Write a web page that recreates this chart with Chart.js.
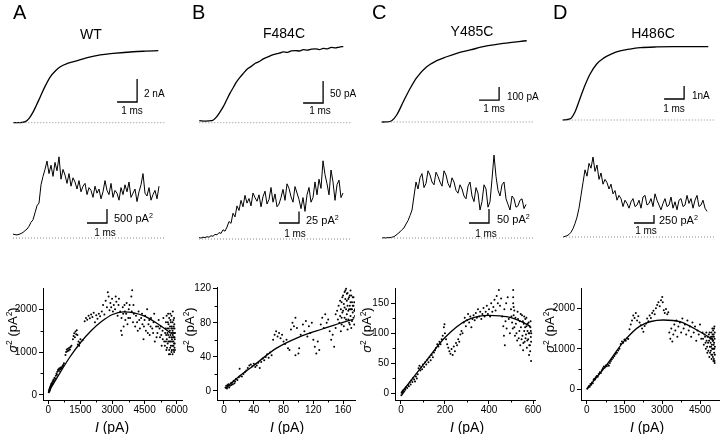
<!DOCTYPE html>
<html>
<head>
<meta charset="utf-8">
<script src="https://cdn.jsdelivr.net/npm/chart.js@4.4.0/dist/chart.umd.min.js"></script>
<style>
body { margin: 0; background: #fff; width: 720px; height: 434px; position: relative; overflow: hidden;
       font-family: "Liberation Sans", Arial, sans-serif; color: #000; }
canvas { position: absolute; }
.t { position: absolute; white-space: nowrap; line-height: 1; }
.t sup { font-size: 65%; vertical-align: 0.55em; line-height: 0; }
</style>
</head>
<body>
<script>
// ---------- row 1: macroscopic currents (time in ms) ----------
const actA_t  = [0, 0.3, 0.6, 0.8, 1.0, 1.15, 1.35, 1.6, 1.85, 2.1, 2.35, 2.7, 3.2, 3.7, 4.35, 5.0, 6.0, 6.6, 7.25];
const actA_nA = [0, 0.01, 0.09, 0.4, 0.96, 1.5, 2.26, 3.2, 3.99, 4.5, 4.87, 5.15, 5.39, 5.65, 5.89, 6.02, 6.17, 6.22, 6.26];

const actB_t  = [0, 0.3, 0.62, 0.87, 1.03, 1.2, 1.37, 1.53, 1.7, 1.87, 2.03, 2.2, 2.4, 2.6, 2.8, 3.0, 3.2, 3.4, 3.6, 3.8,
                 4.0, 4.2, 4.4, 4.6, 4.8, 5.0, 5.2, 5.4, 5.6, 5.8, 6.0, 6.2, 6.4, 6.6, 6.8, 7.0, 7.2];
const actB_pA = [4.5, 3.8, 4.5, 13.6, 24, 36.4, 52, 66.6, 80, 93.2, 103, 112, 122, 128, 135, 139, 145, 149, 153, 156,
                 158, 161, 160, 163, 164, 163, 166, 165, 167, 168, 166, 169, 168, 171, 170, 172, 173];

const actC_t  = [0, 0.25, 0.5, 0.75, 1.08, 1.42, 1.75, 2.25, 2.75, 3.25, 3.75, 4.42, 5.25, 6.08, 7.25];
const actC_pA = [0, 1, 10, 54, 156, 258, 342, 425, 472, 502, 528, 554, 585, 605, 625];

const actD_t  = [0, 0.37, 0.62, 0.87, 1.12, 1.37, 1.7, 2.03, 2.45, 2.87, 3.37, 3.87, 4.7, 5.53, 7.28];
const actD_nA = [0, 0.08, 0.64, 1.67, 2.69, 3.54, 4.31, 4.74, 5.08, 5.31, 5.46, 5.56, 5.62, 5.64, 5.64];

// ---------- row 2: variance traces, sampled every 0.1 ms ----------
const varDt = 0.1;
const varA = [140, 120, 110, 130, 160, 200, 260, 320, 420, 560, 650, 900, 1150, 1250, 1900, 2200, 2450, 2750, 2300, 2600,
              2200, 2700, 2400, 2900, 2100, 2450, 2250, 1950, 2300, 1850, 2150, 2000, 1750, 2050, 1650, 1850, 1950, 1550,
              1800, 1700, 1450, 1850, 1600, 1750, 1400, 1650, 2050, 1700, 1550, 1950, 1450, 1700, 1600, 1350, 1800, 1550,
              1900, 1650, 2000, 1450, 1600, 1750, 1300, 1650, 1900, 2300, 1600, 1500, 1800, 1350, 1550, 1700, 1400, 1850];
const varB = [3, 2, 4, 3, 5, 4, 7, 6, 10, 9, 14, 12, 20, 17, 26, 38, 34, 56, 48, 72, 62, 84, 70, 95, 78, 88, 72,
              100, 90, 82, 96, 70, 92, 104, 76, 86, 112, 80, 98, 70, 76, 90, 108, 84, 120, 110, 92, 80, 114, 100, 86, 66,
              90, 60, 96, 112, 80, 90, 124, 96, 130, 110, 170, 140, 120, 96, 150, 124, 84, 118, 128, 90, 100];
const varC = [0, 1, 0, 2, 1, 3, 5, 10, 16, 22, 30, 36, 50, 62, 80, 100, 150,
              200, 175, 215, 230, 180, 195, 240, 225, 200, 190, 235, 220, 200, 185, 240, 225, 195, 180, 215, 200, 170, 160,
              190, 175, 150, 140, 185, 200, 150, 130, 180, 160, 100, 130, 190, 175, 110, 130, 210, 296, 220, 170, 150, 190,
              200, 140, 120, 100, 150, 140, 110, 115, 135, 140, 105, 120];
const varD = [0, 20, 40, 80, 150, 260, 420, 620, 900, 1300, 1700, 2100, 1900, 2300, 2150, 2500, 2050, 2250, 1800, 2000,
              1650, 1800, 1700, 1500, 1650, 1350, 1450, 1150, 1300, 1200, 950, 1150, 1050, 900, 1100, 1200, 950, 1000,
              1150, 900, 1250, 1300, 1000, 1050, 1200, 950, 1350, 1150, 1000, 850, 1050, 1200, 950, 1000, 1250, 900, 1100,
              850, 1150, 1200, 950, 1000, 1300, 1050, 1200, 900, 1150, 1300, 950, 1000, 1150, 900, 800];

// ---------- row 3: variance vs mean current, [I (pA), sigma^2 (pA^2)] ----------
const scatA = [[20,60],[30,90],[40,120],[50,80],[60,150],[70,110],[80,180],[90,140],[100,200],[110,170],[120,230],[130,190],
  [140,260],[150,220],[170,280],[190,250],[200,320],[220,300],[240,360],[260,340],[290,400],[320,380],[350,450],[380,500],
  [400,470],[420,540],[450,580],[480,600],[500,560],[520,620],[550,600],[580,640],[610,620],[640,650],[670,680],[700,700],
  [730,740],[800,930],[830,1000],[860,1060],[890,1020],[920,1080],[950,1040],[980,1100],[1010,1060],[1040,1120],[1080,1150],
  [1150,1300],[1180,1380],[1210,1440],[1240,1350],[1270,1480],[1300,1420],[1330,1510],[1360,1400],[1380,1180],[1410,1250],
  [1440,1150],[1470,1220],[1500,1300],[1600,1280],[1700,1720],[1760,1800],[1820,1760],[1880,1850],[1940,1790],[2000,1880],
  [2060,1820],[2120,1920],[2180,1700],[2240,1860],[2300,1780],[2360,1900],[2420,1840],[2500,1950],[2560,2100],[2620,1880],
  [2680,2200],[2740,2050],[2780,2400],[2820,2300],[2860,1980],[2900,2150],[2940,2050],[2980,2250],[3020,1950],[3060,2100],
  [3120,2000],[3150,2300],[3180,2180],[3240,1850],[3280,2100],[3300,2250],[3360,1950],[3400,1500],[3420,1800],[3440,1400],
  [3480,2050],[3500,1900],[3520,1600],[3560,2100],[3580,1950],[3600,1750],[3640,1900],[3660,2150],[3700,1650],[3740,1800],
  [3760,2000],[3800,2100],[3820,1800],[3880,2300],[3900,1950],[3920,2450],[3960,1700],[3980,2100],[4000,1900],[4060,1600],
  [4100,1850],[4150,1700],[4180,1500],[4220,1950],[4250,1750],[4280,1550],[4340,1800],[4380,1900],[4400,1650],[4450,1300],
  [4470,1600],[4500,1750],[4530,1850],[4560,1500],[4620,2000],[4650,1450],[4680,1650],[4720,1750],[4740,1400],[4780,1600],
  [4800,1800],[4860,1550],[4900,1450],[4920,1700],[4950,1900],[4980,1250],[5040,1600],[5060,1350],[5100,1450],[5130,1600],
  [5160,1750],[5200,1550],[5220,1350],[5260,1600],[5280,1400],[5300,1150],[5340,1500],[5350,1300],[5380,1800],[5420,1250],
  [5450,1150],[5460,1450],[5480,1550],[5500,1700],[5500,1250],[5510,1400],[5520,1050],[5530,1850],[5540,1300],[5550,1100],
  [5560,1550],[5570,1450],[5580,1200],[5590,1700],[5600,1400],[5600,1900],[5610,1250],[5620,1650],[5630,1550],[5640,950],
  [5650,1050],[5650,1800],[5660,1350],[5670,1250],[5680,1500],[5690,1600],[5690,950],[5700,1100],[5700,1900],[5710,1750],
  [5710,1400],[5720,1250],[5730,1150],[5730,1700],[5740,1450],[5750,1350],[5750,1550],[5760,1000],[5760,1850],[5770,1600],
  [5770,1050],[5780,1300],[5790,1450],[5790,1250],[5800,1150],[5810,1500],[5810,1700],[5810,950],[5820,1400],[5820,1950],
  [5830,1350],[5830,1550],[5840,1050],[5850,1250],[5850,1150],[5850,1750],[5860,1600],[5870,1350],[5870,1450],[5880,1200],
  [5880,1000],[5880,1800],[5890,1450],[5890,1650],[5900,1100],[5900,1350],[5900,1550],[5910,1300],[5910,1200],[5920,1450],
  [5920,1050]];
const fitA = [[0,60],[500,480],[1000,880],[1500,1220],[2000,1500],[2500,1720],[3000,1880],[3500,1940],[4000,1920],
  [4500,1840],[5000,1700],[5500,1530],[5700,1450]];

const scatB = [[2,4],[3,6],[4,3],[5,7],[5,5],[6,8],[7,4],[8,6],[9,9],[10,7],[11,10],[12,8],[13,12],[14,9],[15,11],[16,14],
  [18,13],[20,16],[21,26],[22,18],[24,17],[26,20],[28,22],[30,24],[32,27],[34,30],[36,31],[38,29],[40,32],[42,28],[44,30],
  [46,33],[48,27],[50,34],[52,38],[54,36],[56,40],[58,43],[60,39],[62,45],[64,42],[66,60],[68,66],[70,70],[72,64],[74,68],
  [76,62],[78,66],[80,58],[82,55],[84,60],[86,50],[88,48],[90,72],[92,80],[94,76],[96,86],[96,42],[98,74],[100,44],[101,50],
  [103,66],[106,78],[108,70],[110,82],[112,64],[114,76],[116,68],[118,80],[120,60],[122,52],[124,44],[126,58],[128,48],
  [130,78],[132,86],[134,74],[136,90],[138,80],[140,84],[142,70],[144,60],[146,66],[148,52],[150,74],[150,90],[152,94],
  [153,84],[154,100],[155,80],[156,88],[156,106],[157,70],[157,96],[158,104],[158,78],[158,86],[159,92],[159,110],[160,112],
  [160,94],[161,76],[161,102],[162,98],[162,86],[162,116],[163,118],[163,108],[164,84],[164,96],[164,120],[165,106],[165,90],
  [165,114],[166,72],[166,115],[166,100],[167,94],[167,84],[167,108],[168,80],[168,110],[168,96],[169,100],[169,112],[169,78],
  [170,88],[170,118],[170,104],[170,96],[171,74],[171,96],[171,112],[172,104],[172,82],[172,96],[173,92],[173,110],[173,100],
  [174,86],[174,100],[174,110],[175,78],[175,94],[175,104],[176,88],[176,96]];
const fitB = [[2,3],[20,17],[40,30],[70,50],[100,63],[133,73],[165,82],[174,84]];

const scatC = [[2,-3],[4,2],[6,-1],[8,4],[10,1],[12,6],[15,3],[18,8],[20,6],[24,11],[28,9],[32,14],[36,12],[40,18],[44,15],
  [48,22],[52,19],[56,26],[60,23],[64,20],[68,28],[72,25],[76,32],[80,42],[84,46],[88,38],[92,44],[96,40],[100,48],[105,44],
  [110,52],[115,48],[120,56],[125,52],[130,60],[135,55],[140,64],[145,60],[150,68],[155,72],[160,76],[165,82],[170,78],
  [175,86],[180,82],[185,90],[190,96],[195,110],[198,115],[200,100],[205,90],[210,82],[215,76],[220,70],[225,66],[230,74],
  [235,64],[240,78],[245,70],[250,84],[255,80],[260,90],[265,86],[270,98],[275,104],[280,100],[285,118],[290,126],[295,112],
  [300,122],[305,132],[310,118],[315,128],[320,110],[325,124],[330,130],[335,122],[340,134],[345,126],[350,140],[355,128],
  [360,136],[365,124],[370,132],[375,142],[380,128],[385,136],[390,146],[395,132],[400,140],[405,128],[410,150],[415,136],
  [420,144],[425,156],[430,138],[435,162],[440,150],[445,172],[450,146],[455,158],[460,128],[465,112],[468,96],[470,140],
  [472,80],[475,120],[478,150],[480,108],[485,160],[490,124],[495,100],[500,140],[502,128],[505,118],[508,108],[510,172],
  [510,150],[510,160],[512,130],[512,144],[515,110],[515,138],[518,96],[520,126],[522,116],[525,100],[528,88],[530,136],
  [532,124],[535,92],[538,104],[540,120],[542,80],[544,132],[545,110],[548,90],[550,130],[552,96],[554,120],[555,72],
  [556,84],[558,116],[560,104],[560,128],[562,86],[564,110],[565,124],[566,92],[568,98],[570,112],[570,126],[572,76],
  [574,88],[575,104],[576,116],[578,90],[580,118],[580,100],[582,64],[583,80],[584,100],[585,112],[586,80],[587,70],
  [588,110],[589,120],[590,94],[590,104],[591,54],[591,86],[592,100]];
const fitC = [[0,0],[100,47],[200,93],[300,122],[400,130],[450,129],[500,126],[550,119],[585,112]];

const scatD = [[30,20],[60,50],[90,80],[120,60],[150,130],[180,110],[210,170],[240,150],[270,230],[300,260],[330,240],
  [360,300],[400,330],[440,310],[480,380],[520,420],[560,400],[600,470],[640,520],[680,560],[720,540],[760,590],[800,570],
  [840,610],[880,580],[920,650],[960,700],[1000,740],[1050,780],[1100,820],[1150,870],[1200,900],[1250,960],[1300,1000],
  [1350,1120],[1400,1180],[1450,1150],[1500,1230],[1550,1200],[1600,1260],[1650,1240],[1700,1480],[1750,1600],[1800,1700],
  [1850,1820],[1900,1760],[1950,1880],[2000,1700],[2050,1800],[2100,1650],[2150,1580],[2200,1500],[2250,1420],[2300,1560],
  [2350,1620],[2400,1750],[2450,1680],[2500,1820],[2550,1760],[2600,1880],[2650,1940],[2700,1850],[2750,2000],[2800,2080],
  [2850,2150],[2900,2050],[2950,2200],[3000,2280],[3020,2150],[3060,1950],[3100,1880],[3150,1980],[3200,1850],[3240,1900],
  [3280,1400],[3320,1250],[3360,1500],[3400,1180],[3440,1350],[3480,1600],[3520,1450],[3560,1700],[3600,1300],[3640,1550],
  [3700,1650],[3750,1400],[3800,1750],[3850,1500],[3900,1600],[3950,1350],[4000,1700],[4050,1450],[4100,1550],[4150,1300],
  [4200,1650],[4250,1400],[4300,1550],[4350,1200],[4400,1450],[4450,1350],[4500,1600],[4550,1250],[4600,1400],[4620,1250],
  [4650,1100],[4680,1350],[4700,1300],[4720,1150],[4730,1000],[4750,1400],[4760,1200],[4780,1050],[4790,900],[4800,1300],
  [4820,1150],[4830,950],[4850,1350],[4860,1200],[4870,800],[4880,1400],[4890,1050],[4900,900],[4910,1250],[4920,1150],
  [4930,950],[4940,1300],[4940,1050],[4950,1400],[4950,850],[4960,750],[4970,1100],[4970,1250],[4980,1300],[4980,1000],
  [4990,850],[4990,1500],[5000,1200],[5000,1350],[5010,1000],[5010,800],[5020,1450],[5020,1200],[5030,700],[5030,1000],
  [5040,1100],[5040,1350],[5050,1300],[5050,750],[5055,1500],[5060,900],[5060,1150],[5070,1550],[5070,1000],[5075,700],
  [5080,650],[5080,1250],[5085,1400],[5090,1050],[5090,850]];
const fitD = [[0,0],[790,600],[1500,1200],[2115,1560],[3040,1710],[3700,1670],[4500,1420],[5030,1220]];

// tick labels
const xTicksA = [0, 1500, 3000, 4500, 6000], yTicksA = [0, 1000, 2000];
const xTicksB = [0, 40, 80, 120, 160],       yTicksB = [0, 40, 80, 120];
const xTicksC = [0, 200, 400, 600],          yTicksC = [0, 50, 100, 150];
const xTicksD = [0, 1500, 3000, 4500],       yTicksD = [0, 1000, 2000];

const panelLetters = ['A', 'B', 'C', 'D'];
const panelNames = ['WT', 'F484C', 'Y485C', 'H486C'];

// ---------- helpers ----------
function makeCanvas(left, top, w, h) {
  const c = document.createElement('canvas');
  c.width = w; c.height = h;
  c.style.left = left + 'px'; c.style.top = top + 'px';
  c.style.width = w + 'px'; c.style.height = h + 'px';
  document.body.appendChild(c);
  return c;
}
function addText(html, x, y, size, anchor, extra) {
  const d = document.createElement('div');
  d.className = 't';
  d.innerHTML = html;
  d.style.left = x + 'px'; d.style.top = y + 'px';
  d.style.fontSize = size + 'px';
  const tr = { l: 'translate(0,-50%)', c: 'translate(-50%,-50%)', r: 'translate(-100%,-50%)' }[anchor || 'c'];
  d.style.transform = tr + (extra || '');
  document.body.appendChild(d);
}
const pts = (xs, ys) => xs.map((x, i) => ({ x: x, y: ys[i] }));
const sampled = (ys) => ys.map((y, i) => ({ x: i * varDt, y: y }));
const pairs = (arr) => arr.map(p => ({ x: p[0], y: p[1] }));

// trace panel: no axes, pixel mapping given by layout
function traceChart(p, trace, lw, smooth) {
  const cv = makeCanvas(p.left, p.top, p.w, p.h);
  const xmin = (p.left - p.x0) / 20, xmax = (p.left + p.w - p.x0) / 20;
  const ymax = (p.base - p.top) / p.pxY, ymin = (p.base - p.top - p.h) / p.pxY;
  const line = { data: trace, borderColor: '#000', borderWidth: lw, pointRadius: 0, tension: 0 };
  if (smooth) line.cubicInterpolationMode = 'monotone';
  new Chart(cv, {
    type: 'line',
    data: {
      datasets: [
        { data: [{ x: 0, y: 0 }, { x: p.end, y: 0 }], borderColor: '#8a8a8a', borderWidth: 1, borderDash: [1, 2], pointRadius: 0 },
        line,
        { data: [{ x: p.barT - 1, y: p.barY }, { x: p.barT, y: p.barY }, { x: p.barT, y: p.barY + p.barH }],
          borderColor: '#000', borderWidth: 1.3, pointRadius: 0, tension: 0 }
      ]
    },
    options: {
      responsive: false, animation: false, events: [],
      layout: { padding: 0 },
      plugins: { legend: { display: false }, tooltip: { enabled: false } },
      scales: { x: { type: 'linear', display: false, min: xmin, max: xmax },
                y: { type: 'linear', display: false, min: ymin, max: ymax } }
    }
  });
}

const minorTicks = {
  id: 'minorTicks',
  afterDraw(chart) {
    const ctx = chart.ctx;
    ctx.save(); ctx.strokeStyle = '#000'; ctx.lineWidth = 1;
    ['x', 'y'].forEach(k => {
      const s = chart.scales[k];
      const tk = s.ticks.map(t => t.value);
      for (let i = 0; i < tk.length - 1; i++) {
        const p = Math.round(s.getPixelForValue((tk[i] + tk[i + 1]) / 2)) + 0.5;
        ctx.beginPath();
        if (k === 'x') { ctx.moveTo(p, s.top); ctx.lineTo(p, s.top + 2.5); }
        else { ctx.moveTo(s.right, p); ctx.lineTo(s.right - 2.5, p); }
        ctx.stroke();
      }
    });
    ctx.restore();
  }
};

function scatterChart(p, cloud, fit, xt, yt) {
  const W = p.area[0] - p.left, H = 28, padT = 8, padR = 8;
  const cv = makeCanvas(p.left, p.area[1] - padT, p.area[2] - p.left + padR, p.area[3] - p.area[1] + padT + H);
  const axis = (ticks) => ({
    type: 'linear',
    afterBuildTicks: s => { s.ticks = ticks.map(v => ({ value: v })); },
    grid: { drawOnChartArea: false, drawTicks: true, tickLength: 4, color: '#000', tickColor: '#000', lineWidth: 1 },
    border: { display: true, color: '#000', width: 1 },
    ticks: { color: '#000', font: { family: 'Liberation Sans', size: 10 }, maxRotation: 0, autoSkip: false,
             callback: v => String(v) }
  });
  const xs = axis(xt), ys = axis(yt);
  xs.min = p.x[0]; xs.max = p.x[1]; xs.ticks.padding = 0;
  xs.afterFit = s => { s.height = H; };
  ys.min = p.y[0]; ys.max = p.y[1]; ys.ticks.padding = 2;
  ys.afterFit = s => { s.width = W; };
  new Chart(cv, {
    type: 'scatter',
    data: {
      datasets: [
        { data: pairs(cloud), pointRadius: 1, pointBackgroundColor: '#000', pointBorderWidth: 0, showLine: false },
        { data: pairs(fit), borderColor: '#000', borderWidth: 1.3, pointRadius: 0, showLine: true, cubicInterpolationMode: 'monotone' }
      ]
    },
    options: {
      responsive: false, animation: false, events: [],
      layout: { padding: { top: padT, right: padR, left: 0, bottom: 0 } },
      plugins: { legend: { display: false }, tooltip: { enabled: false } },
      scales: { x: xs, y: ys }
    },
    plugins: [minorTicks]
  });
}

// ---------- layout ----------
const row1 = [
  { left: 0,   top: 20, w: 185, h: 115, x0: 13.3,  base: 122.7, pxY: 11.5, end: 7.6,  barT: 6.19, barY: 1.8,   barH: 2 },
  { left: 190, top: 20, w: 180, h: 115, x0: 199.3, base: 122.7, pxY: 0.44, end: 7.55, barT: 6.19, barY: 44.8,  barH: 50 },
  { left: 370, top: 20, w: 180, h: 115, x0: 381.7, base: 122,   pxY: 0.13, end: 7.55, barT: 5.87, barY: 169,   barH: 100 },
  { left: 550, top: 20, w: 170, h: 115, x0: 562.7, base: 120,   pxY: 13,   end: 7.6,  barT: 6.07, barY: 1.615, barH: 1 }
];
const row2 = [
  { left: 0,   top: 140, w: 185, h: 110, x0: 13,  base: 238, pxY: 0.028, end: 7.6,  barT: 4.7,  barY: 536,  barH: 500 },
  { left: 190, top: 140, w: 180, h: 110, x0: 199, base: 239, pxY: 0.46,  end: 7.55, barT: 5.0,  barY: 34.8, barH: 25 },
  { left: 370, top: 140, w: 180, h: 110, x0: 382, base: 238, pxY: 0.28,  end: 7.55, barT: 5.35, barY: 53.6, barH: 50 },
  { left: 550, top: 140, w: 170, h: 110, x0: 563, base: 237, pxY: 0.032, end: 7.6,  barT: 4.55, barY: 437,  barH: 250 }
];
const row3 = [
  { left: 0,   area: [43, 288, 182, 400],  x: [-250, 6250], y: [-120, 2500] },
  { left: 180, area: [217, 287, 355, 400], x: [-9.4, 176],   y: [-10.6, 122] },
  { left: 358, area: [395, 288, 535, 400], x: [-27, 609],    y: [-11, 175.5] },
  { left: 541, area: [581, 288, 719, 400], x: [-226, 5254],  y: [-264, 2500] }
];

traceChart(row1[0], pts(actA_t, actA_nA), 1.3, true);
traceChart(row1[1], pts(actB_t, actB_pA), 1.3, true);
traceChart(row1[2], pts(actC_t, actC_pA), 1.3, true);
traceChart(row1[3], pts(actD_t, actD_nA), 1.3, true);

traceChart(row2[0], sampled(varA), 1, false);
traceChart(row2[1], sampled(varB), 1, false);
traceChart(row2[2], sampled(varC), 1, false);
traceChart(row2[3], sampled(varD), 1, false);

scatterChart(row3[0], scatA, fitA, xTicksA, yTicksA);
scatterChart(row3[1], scatB, fitB, xTicksB, yTicksB);
scatterChart(row3[2], scatC, fitC, xTicksC, yTicksC);
scatterChart(row3[3], scatD, fitD, xTicksD, yTicksD);

// ---------- text ----------
const letterX = [13, 192, 372, 553], nameX = [91, 284, 472, 653], nameY = [34, 33, 31, 33];
panelLetters.forEach((s, i) => addText(s, letterX[i], 12, 20, 'l'));
panelNames.forEach((s, i) => addText(s, nameX[i], nameY[i], 14, 'c'));

addText('2 nA', 144, 93.5, 10, 'l');   addText('1 ms', 132, 111, 10, 'c');
addText('50 pA', 330, 94, 10, 'l');    addText('1 ms', 320, 111, 10, 'c');
addText('100 pA', 507, 96.5, 10, 'l'); addText('1 ms', 494, 109, 10, 'c');
addText('1nA', 692, 95.5, 10, 'l');    addText('1 ms', 674, 109, 10, 'c');

addText('500 pA<sup>2</sup>', 114, 218, 11, 'l'); addText('1 ms', 105, 233, 10, 'c');
addText('25 pA<sup>2</sup>', 306, 220, 11, 'l');  addText('1 ms', 295, 234, 10, 'c');
addText('50 pA<sup>2</sup>', 497, 219, 11, 'l');  addText('1 ms', 486, 234, 10, 'c');
addText('250 pA<sup>2</sup>', 659, 220, 11, 'l'); addText('1 ms', 646, 231, 10, 'c');

const yTitleX = [12, 189, 366, 549], xTitleX = [112, 287, 467, 647];
yTitleX.forEach(x => addText('<i>&sigma;</i><sup>2</sup> (pA<sup>2</sup>)', x, 330, 13, 'c', ' rotate(-90deg)'));
xTitleX.forEach(x => addText('<i>I</i> (pA)', x, 427, 14, 'c'));
</script>
</body>
</html>
